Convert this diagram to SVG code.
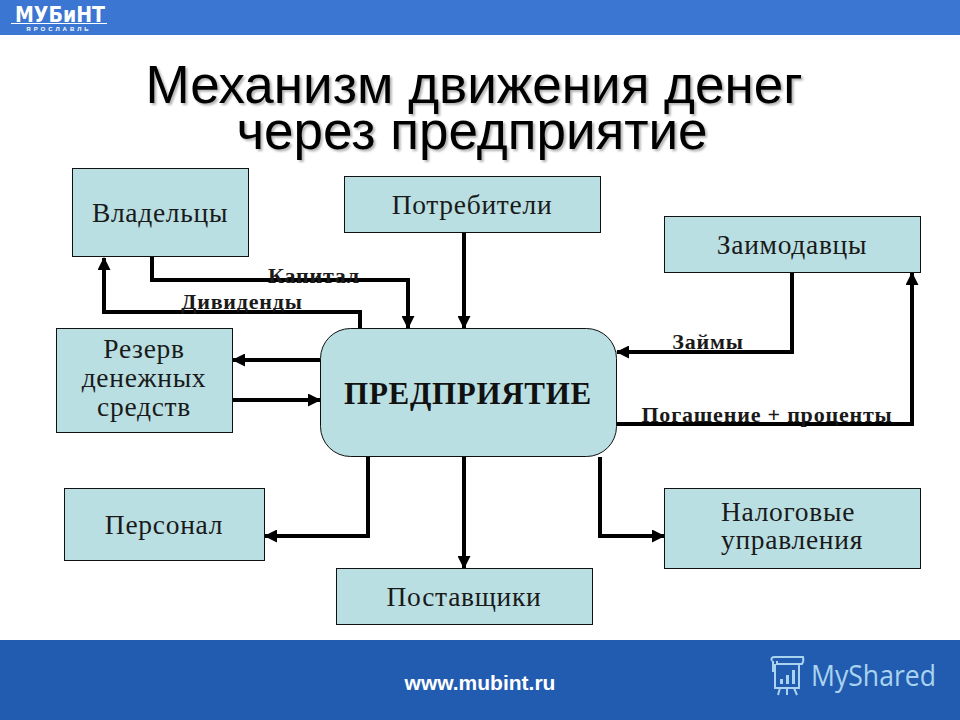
<svg xmlns="http://www.w3.org/2000/svg" width="960" height="720" viewBox="0 0 960 720">
<style>
.box{fill:#b9dfe2;stroke:#111;stroke-width:1}
.t{font-family:"Liberation Serif",serif;font-size:27.5px;fill:#1a1a1a;text-anchor:middle;letter-spacing:.7px}
.l{font-family:"Liberation Serif",serif;font-size:22px;font-weight:bold;fill:#1a1a1a;text-anchor:middle;letter-spacing:.8px}
.c{fill:none;stroke:#000;stroke-width:4;stroke-linejoin:miter}
.h{font-family:"Liberation Sans",sans-serif;font-size:53px;fill:#000;text-anchor:middle}
</style>
<defs>
<marker id="a" viewBox="0 0 13 13" refX="12" refY="6.500" markerUnits="userSpaceOnUse" markerWidth="13" markerHeight="13" orient="auto"><path d="M0 0L13 6.500L0 13Z" fill="#000"/></marker>
<filter id="sh" x="-5%" y="-20%" width="110%" height="140%"><feDropShadow dx="2" dy="2" stdDeviation="1" flood-color="#000" flood-opacity=".3"/></filter>
</defs>
<rect width="960" height="720" fill="#fff"/>
<g id="header">
<rect width="960" height="35" fill="#3b76d2"/>
<text x="60" y="22" font-family="'DejaVu Sans',sans-serif" font-size="21" font-weight="bold" fill="#fff" text-anchor="middle" textLength="90" lengthAdjust="spacingAndGlyphs">МУБиНТ</text>
<rect x="11" y="23" width="96" height="1" fill="#fff"/>
<text x="59" y="31" font-family="'Liberation Sans',sans-serif" font-size="6" font-weight="bold" fill="#fff" text-anchor="middle" letter-spacing="3">ЯРОСЛАВЛЬ</text>
</g>
<g id="title" filter="url(#sh)">
<text class="h" x="474" y="103">Механизм движения денег</text>
<text class="h" x="472" y="149">через предприятие</text>
</g>
<g id="connectors">
<path class="c" d="M152 257V280H408V328" marker-end="url(#a)"/>
<path class="c" d="M360 328V312H104V258" marker-end="url(#a)"/>
<path class="c" d="M464 233V328" marker-end="url(#a)"/>
<path class="c" d="M792 273V352H617" marker-end="url(#a)"/>
<path class="c" d="M617 424H912V273" marker-end="url(#a)"/>
<path class="c" d="M320 360H233" marker-end="url(#a)"/>
<path class="c" d="M233 400H320" marker-end="url(#a)"/>
<path class="c" d="M368 457V536H265" marker-end="url(#a)"/>
<path class="c" d="M464 457V568" marker-end="url(#a)"/>
<path class="c" d="M600 457V536H664" marker-end="url(#a)"/>
</g>
<g id="n-owners"><rect class="box" x="72.500" y="168.500" width="176" height="88"/><text class="t" x="160" y="222">Владельцы</text></g>
<g id="n-consumers"><rect class="box" x="344.500" y="176.500" width="256" height="56"/><text class="t" x="472" y="214">Потребители</text></g>
<g id="n-lenders"><rect class="box" x="664.500" y="216.500" width="256" height="56"/><text class="t" x="792" y="254">Заимодавцы</text></g>
<g id="n-reserve"><rect class="box" x="56.500" y="328.500" width="176" height="104"/><text class="t" x="144" y="358">Резерв</text><text class="t" x="144" y="387">денежных</text><text class="t" x="144" y="416">средств</text></g>
<g id="n-enterprise"><rect class="box" x="320.500" y="328.500" width="296" height="128" rx="30"/><text x="468" y="404" font-family="'Liberation Serif',serif" font-size="31" font-weight="bold" fill="#111" text-anchor="middle" letter-spacing=".7">ПРЕДПРИЯТИЕ</text></g>
<g id="n-staff"><rect class="box" x="64.500" y="488.500" width="200" height="72"/><text class="t" x="164" y="534">Персонал</text></g>
<g id="n-tax"><rect class="box" x="664.500" y="488.500" width="256" height="80"/><text class="t" x="788" y="521">Налоговые</text><text class="t" x="792" y="549">управления</text></g>
<g id="n-suppliers"><rect class="box" x="336.500" y="568.500" width="256" height="56"/><text class="t" x="464" y="606">Поставщики</text></g>
<g id="labels">
<text class="l" x="314" y="283">Капитал</text>
<text class="l" x="242" y="309">Дивиденды</text>
<text class="l" x="708" y="349">Займы</text>
<text class="l" x="767" y="422">Погашение + проценты</text>
</g>
<g id="footer">
<rect y="640" width="960" height="80" fill="#225cb0"/>
<text x="480" y="690" font-family="'Liberation Sans',sans-serif" font-size="21" font-weight="bold" fill="#fff" text-anchor="middle">www.mubint.ru</text>
<g fill="none" stroke="#a9d3ee" stroke-width="2"><path d="M773 661V672M772 661Q770 657 775 657H803Q804 661 802 664H777V661M775 664V688H799V664M780 688L778 695M787 688V695M794 688L797 695"/></g>
<path d="M780 679h3v5h-3zM786 675h3v9h-3zM792 670h3v14h-3z" fill="#a9d3ee"/>
<text x="811" y="686" font-family="'Open Sans',sans-serif" font-size="29.500" fill="#a9d3ee" textLength="125" lengthAdjust="spacingAndGlyphs">MyShared</text>
</g>
</svg>
